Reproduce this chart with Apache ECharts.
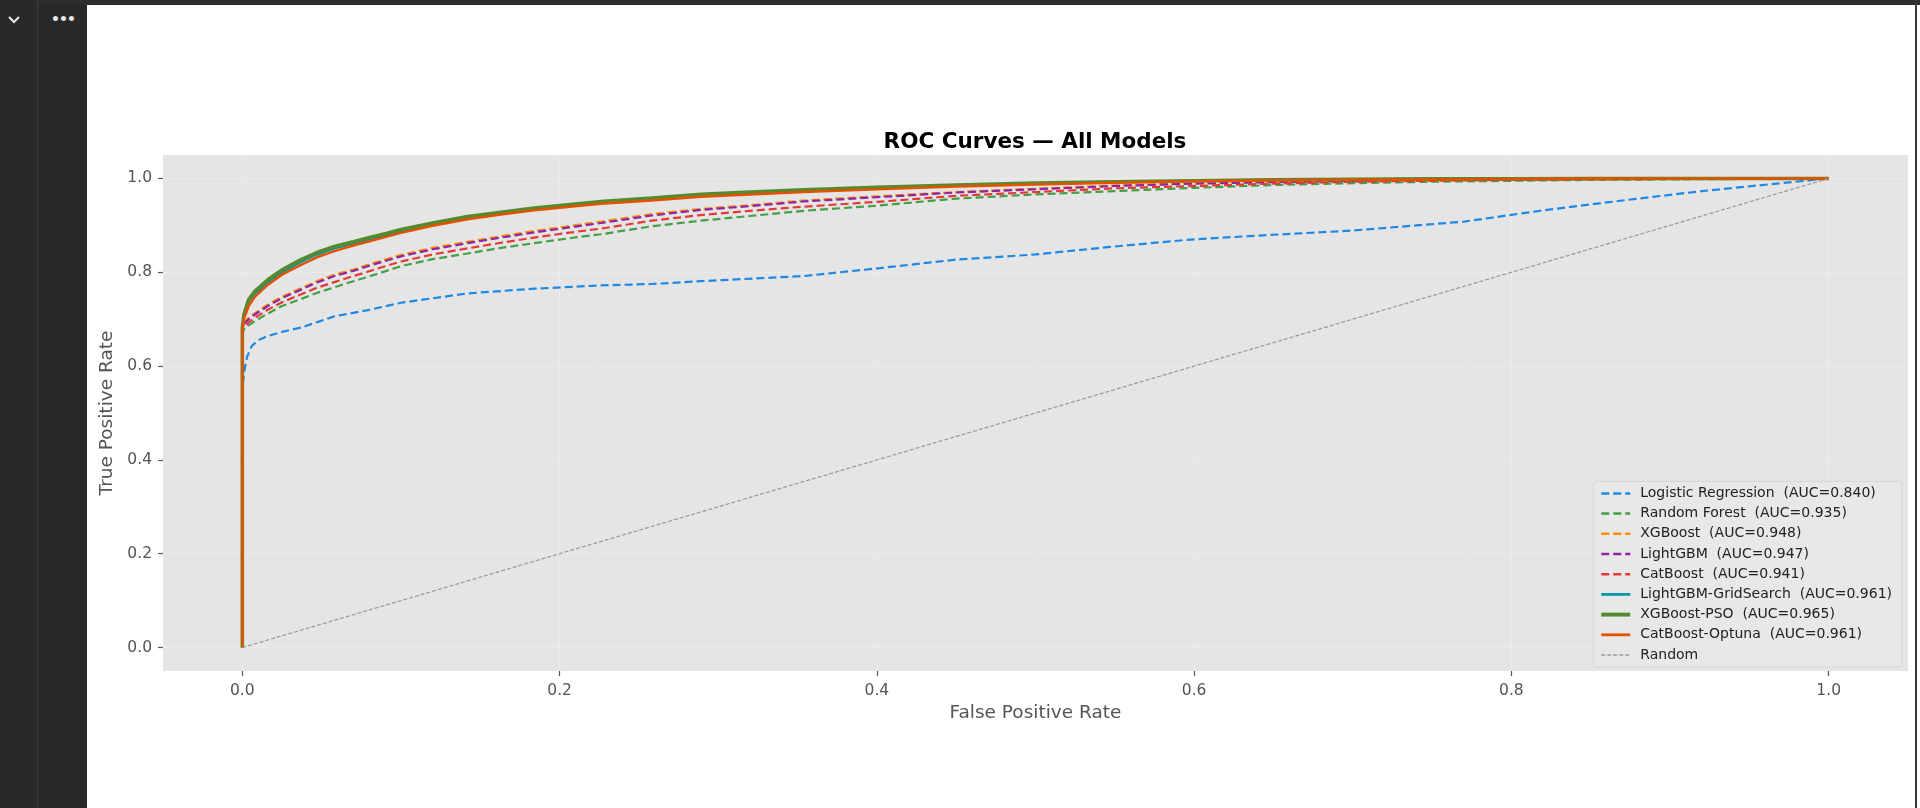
<!DOCTYPE html>
<html>
<head>
<meta charset="utf-8">
<script src="https://cdn.jsdelivr.net/npm/echarts@6/dist/echarts.min.js"></script>
<style>
  html, body { margin: 0; padding: 0; width: 1920px; height: 808px; background: #ffffff; overflow: hidden; font-family: "DejaVu Sans", sans-serif; }
  #side1 { position: absolute; left: 0; top: 0; width: 37px; height: 808px; background: #27292a; border-right: 1px solid #3a3c3d; }
  #side2 { position: absolute; left: 38px; top: 0; width: 49px; height: 808px; background: #28292b; }
  #topbar { position: absolute; left: 38px; top: 0; width: 1882px; height: 5px; background: #2b2d2e; }
  #rightline { position: absolute; left: 1915px; top: 0; width: 2px; height: 808px; background: #3a3a3a; }
  #chev { position: absolute; left: 8px; top: 10px; width: 14px; height: 14px; }
  #dots { position: absolute; left: 51px; top: 11px; color: #e8e8e8; font-size: 14px; font-weight: bold; letter-spacing: -1px; }
  #chart { position: absolute; left: 0; top: 0; width: 1920px; height: 808px; }
</style>
</head>
<body>
<div id="chart"></div>
<div id="side1"></div>
<div id="side2"></div>
<div id="topbar"></div>
<div id="rightline"></div>
<div id="chev"><svg width="12" height="10" viewBox="0 0 12 10"><polyline points="1,2 6,7 11,2" fill="none" stroke="#e8e8e8" stroke-width="2"/></svg></div>
<div id="dots">•••</div>
<script>
// ---- data ----
const chartTitle = 'ROC Curves — All Models';
const xTicks = [0, 0.2, 0.4, 0.6, 0.8, 1.0];
const yTicks = [0, 0.2, 0.4, 0.6, 0.8, 1.0];

const modelNames = [
  'Logistic Regression  (AUC=0.840)',
  'Random Forest  (AUC=0.935)',
  'XGBoost  (AUC=0.948)',
  'LightGBM  (AUC=0.947)',
  'CatBoost  (AUC=0.941)',
  'LightGBM-GridSearch  (AUC=0.961)',
  'XGBoost-PSO  (AUC=0.965)',
  'CatBoost-Optuna  (AUC=0.961)',
  'Random'
];

const fprLr = [0, 0, 0.001, 0.003, 0.006, 0.01, 0.016, 0.025, 0.037, 0.058, 0.08, 0.1, 0.142, 0.184, 0.226, 0.258, 0.289, 0.354, 0.402, 0.45, 0.5, 0.547, 0.595, 0.634, 0.7, 0.77, 0.82, 0.87, 0.92, 0.97, 1.0];
const tprLr = [0, 0.55, 0.585, 0.62, 0.643, 0.655, 0.664, 0.673, 0.682, 0.706, 0.72, 0.735, 0.755, 0.765, 0.772, 0.775, 0.781, 0.792, 0.809, 0.827, 0.838, 0.854, 0.869, 0.877, 0.889, 0.908, 0.932, 0.953, 0.973, 0.99, 1.0];

const fprGrid = [0, 0, 0.001, 0.004, 0.008, 0.016, 0.025, 0.037, 0.047, 0.058, 0.07, 0.079, 0.09, 0.1, 0.12, 0.142, 0.163, 0.184, 0.205, 0.226, 0.258, 0.289, 0.32, 0.354, 0.4, 0.45, 0.5, 0.55, 0.6, 0.65, 0.7, 0.75, 0.8, 0.85, 0.9, 0.95, 1.0];
const tprRf = [0, 0.672, 0.678, 0.687, 0.696, 0.712, 0.728, 0.743, 0.756, 0.768, 0.781, 0.79, 0.802, 0.813, 0.828, 0.84, 0.852, 0.862, 0.872, 0.881, 0.898, 0.91, 0.92, 0.931, 0.942, 0.957, 0.966, 0.973, 0.98, 0.986, 0.99, 0.993, 0.995, 0.997, 0.998, 0.999, 1];
const tprXgb = [0, 0.68, 0.692, 0.703, 0.713, 0.731, 0.748, 0.766, 0.781, 0.795, 0.806, 0.816, 0.827, 0.837, 0.852, 0.865, 0.877, 0.888, 0.898, 0.908, 0.924, 0.935, 0.943, 0.953, 0.962, 0.971, 0.978, 0.985, 0.99, 0.993, 0.995, 0.997, 0.998, 0.999, 1, 1, 1];
const tprLgbm = [0, 0.68, 0.69, 0.70, 0.71, 0.728, 0.745, 0.763, 0.778, 0.792, 0.803, 0.813, 0.824, 0.834, 0.849, 0.862, 0.874, 0.885, 0.895, 0.905, 0.921, 0.933, 0.941, 0.951, 0.96, 0.97, 0.977, 0.984, 0.989, 0.992, 0.995, 0.997, 0.998, 0.999, 1, 1, 1];
const tprCat = [0, 0.675, 0.683, 0.693, 0.703, 0.72, 0.736, 0.753, 0.767, 0.779, 0.792, 0.801, 0.813, 0.823, 0.838, 0.851, 0.863, 0.874, 0.884, 0.893, 0.91, 0.922, 0.931, 0.94, 0.95, 0.963, 0.971, 0.979, 0.984, 0.989, 0.993, 0.995, 0.997, 0.998, 0.999, 1, 1];
const tprLgbmGs = [0, 0.68, 0.705, 0.737, 0.755, 0.779, 0.8, 0.822, 0.838, 0.851, 0.861, 0.869, 0.878, 0.887, 0.902, 0.916, 0.926, 0.935, 0.942, 0.949, 0.956, 0.964, 0.969, 0.974, 0.98, 0.985, 0.989, 0.992, 0.995, 0.997, 0.998, 0.999, 0.9995, 1, 1, 1, 1];
const tprXgbPso = [0, 0.68, 0.71, 0.742, 0.76, 0.784, 0.805, 0.827, 0.842, 0.855, 0.865, 0.873, 0.882, 0.891, 0.905, 0.919, 0.928, 0.937, 0.944, 0.951, 0.958, 0.966, 0.971, 0.976, 0.981, 0.986, 0.99, 0.993, 0.995, 0.997, 0.998, 0.999, 0.9995, 1, 1, 1, 1];
const tprCatOptuna = [0, 0.68, 0.70, 0.728, 0.748, 0.773, 0.795, 0.816, 0.832, 0.845, 0.857, 0.865, 0.875, 0.884, 0.899, 0.913, 0.923, 0.932, 0.939, 0.946, 0.953, 0.961, 0.966, 0.971, 0.977, 0.983, 0.987, 0.991, 0.994, 0.996, 0.997, 0.998, 0.999, 1, 1, 1, 1];
const fprRandom = [0, 1];
const tprRandom = [0, 1];

// ---- build chart ----
const zip = (xs, ys) => xs.map((x, i) => [x, ys[i]]);
const curves = [
  { x: fprLr,    y: tprLr,        color: '#1E88E5', width: 2.2, dash: [8, 4] },
  { x: fprGrid,  y: tprRf,        color: '#43A047', width: 2.2, dash: [8, 4] },
  { x: fprGrid,  y: tprXgb,       color: '#FB8C00', width: 2.2, dash: [8, 4] },
  { x: fprGrid,  y: tprLgbm,      color: '#8E24AA', width: 2.2, dash: [8, 4] },
  { x: fprGrid,  y: tprCat,       color: '#E53935', width: 2.2, dash: [8, 4] },
  { x: fprGrid,  y: tprLgbmGs,    color: '#0097A7', width: 2.5, dash: 'solid' },
  { x: fprGrid,  y: tprXgbPso,    color: '#558B2F', width: 3.6, dash: 'solid' },
  { x: fprGrid,  y: tprCatOptuna, color: '#E65100', width: 2.5, dash: 'solid' },
  { x: fprRandom, y: tprRandom,   color: '#999999', width: 1.2, dash: [4, 2] }
];

const series = curves.map((c, i) => ({
  name: modelNames[i],
  type: 'line',
  data: zip(c.x, c.y),
  symbol: 'none',
  showSymbol: false,
  smooth: false,
  silent: true,
  animation: false,
  lineStyle: { color: c.color, width: c.width, type: c.dash },
  itemStyle: { color: c.color },
  z: 2 + i
}));

const legendData = curves.map((c, i) => ({
  name: modelNames[i],
  lineStyle: { width: c.width + 0.3, color: c.color, type: c.dash }
}));

const labelFont = { color: '#555555', fontSize: 15.5, fontFamily: 'DejaVu Sans' };
const nameFont = { color: '#555555', fontSize: 18.5, fontFamily: 'DejaVu Sans' };

const chart = echarts.init(document.getElementById('chart'), null, { renderer: 'canvas' });
chart.setOption({
  animation: false,
  backgroundColor: 'transparent',
  title: {
    text: chartTitle,
    left: 1030,
    textAlign: 'center',
    top: 126,
    textStyle: { color: '#000000', fontSize: 21.5, fontWeight: 'bold', fontFamily: 'DejaVu Sans' }
  },
  grid: {
    left: 163, right: 12, top: 155, bottom: 137,
    show: true, backgroundColor: '#E5E5E5', borderWidth: 0
  },
  legend: {
    orient: 'vertical',
    right: 18,
    bottom: 141,
    itemWidth: 29,
    itemHeight: 14,
    itemGap: 6.2,
    padding: [5, 10, 5, 6],
    backgroundColor: 'rgba(233,233,233,0.85)',
    borderColor: '#d6d6d6',
    borderWidth: 1,
    borderRadius: 4,
    selectedMode: false,
    itemStyle: { opacity: 0 },
    textStyle: { color: '#222222', fontSize: 14, fontFamily: 'DejaVu Sans', padding: [0, 0, 0, 5] },
    data: legendData
  },
  xAxis: {
    type: 'value',
    min: -0.05,
    max: 1.05,
    name: 'False Positive Rate',
    nameLocation: 'middle',
    nameGap: 32,
    nameTextStyle: nameFont,
    axisLine: { show: false, onZero: false },
    axisTick: { show: true, length: 5, lineStyle: { color: '#555555', width: 1.2 }, customValues: xTicks },
    axisLabel: Object.assign({ customValues: xTicks, margin: 12, formatter: v => v.toFixed(1) }, labelFont),
    splitLine: { show: true, lineStyle: { color: '#EBEBEB', width: 1 } }
  },
  yAxis: {
    type: 'value',
    min: -0.05,
    max: 1.05,
    name: 'True Positive Rate',
    nameLocation: 'middle',
    nameGap: 46,
    nameTextStyle: nameFont,
    axisLine: { show: false, onZero: false },
    axisTick: { show: true, length: 5, lineStyle: { color: '#555555', width: 1.2 }, customValues: yTicks },
    axisLabel: Object.assign({ customValues: yTicks, margin: 11, formatter: v => v.toFixed(1) }, labelFont),
    splitLine: { show: true, lineStyle: { color: '#EBEBEB', width: 1 } }
  },
  series: series
});
</script>
</body>
</html>
